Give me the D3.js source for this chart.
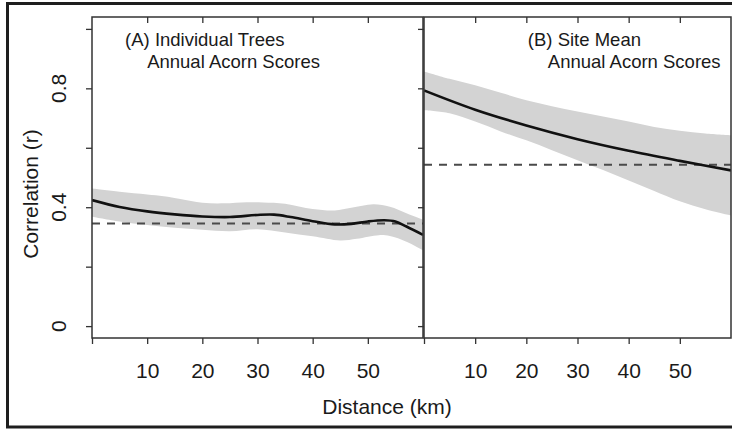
<!DOCTYPE html>
<html lang="en">
<head>
  <meta charset="UTF-8" />
  <title>Correlation vs distance</title>
  <script src="https://d3js.org/d3.v7.min.js"></script>
  <style>
    body { margin: 0; background: #fff; }
    text { font-family: "Liberation Sans", Arial, sans-serif; fill: #1a1a1a; }
    .tick line { stroke: #333; stroke-width: 1.3px; }
  </style>
</head>
<body>
  <svg width="732" height="429"></svg>

  <script>
    // Panel A: individual trees
    const distA  = [0, 5, 10, 15, 20, 25, 30, 33, 36, 40, 44, 47, 50, 53, 55, 57, 60];
    const meanA  = [0.424, 0.401, 0.386, 0.376, 0.369, 0.367, 0.374, 0.375, 0.367, 0.353, 0.342, 0.344, 0.352, 0.356, 0.352, 0.335, 0.307];
    const bandDistA = [0, 5, 10, 13, 16, 20, 24, 28, 31, 35, 40, 44, 47, 51, 54, 57, 60];
    const upperA = [0.463, 0.452, 0.443, 0.437, 0.428, 0.415, 0.413, 0.417, 0.416, 0.412, 0.394, 0.389, 0.398, 0.410, 0.402, 0.380, 0.358];
    const lowDistA = [0, 5, 10, 15, 20, 25, 30, 35, 40, 45, 48, 52, 54, 57, 60];
    const lowerA = [0.368, 0.352, 0.340, 0.331, 0.324, 0.319, 0.326, 0.315, 0.302, 0.288, 0.294, 0.306, 0.303, 0.284, 0.255];
    const nullA = 0.345;

    // Panel B: site means
    const distB  = [0, 10, 20, 30, 40, 50, 60];
    const meanB  = [0.793, 0.728, 0.675, 0.629, 0.590, 0.556, 0.524];
    const bandDistB = [0, 5, 10, 15, 20, 25, 30, 35, 40, 45, 50, 55, 60];
    const upperB = [0.857, 0.832, 0.810, 0.785, 0.760, 0.740, 0.722, 0.705, 0.688, 0.670, 0.657, 0.648, 0.642];
    const lowerB = [0.726, 0.716, 0.688, 0.655, 0.625, 0.592, 0.558, 0.525, 0.490, 0.455, 0.420, 0.393, 0.372];
    const nullB = 0.543;

    const xTicks = [0, 10, 20, 30, 40, 50];
    const yTicks = [0, 0.2, 0.4, 0.6, 0.8, 1.0];
    const yLabels = [0, 0.4, 0.8];

    const svg = d3.select("svg");
    const plotTop = 17, plotBottom = 338;

    const y = d3.scaleLinear().domain([-0.04, 1.04]).range([plotBottom, plotTop]);

    // outer frame
    svg.append("rect")
      .attr("x", 7.5).attr("y", 3.5)
      .attr("width", 730).attr("height", 423.5)
      .attr("fill", "none").attr("stroke", "#1e1e1e").attr("stroke-width", 3);

    const panels = [
      { left: 92, right: 423, mean: meanA, dist: distA,
        upper: bandDistA.map((d, i) => [d, upperA[i]]),
        lower: lowDistA.map((d, i) => [d, lowerA[i]]),
        nullR: nullA, lines: ["(A) Individual Trees", "Annual Acorn Scores"], lx: [6, 10], showY: true },
      { left: 424, right: 731, mean: meanB, dist: distB,
        upper: bandDistB.map((d, i) => [d, upperB[i]]),
        lower: bandDistB.map((d, i) => [d, lowerB[i]]),
        nullR: nullB, lines: ["(B) Site Mean", "Annual Acorn Scores"], lx: [20.3, 24.2], showY: false }
    ];

    panels.forEach((p, k) => {
      const x = d3.scaleLinear().domain([0, 60]).range([p.left, p.right]);
      const g = svg.append("g");

      const clipId = "clip" + k;
      svg.append("clipPath").attr("id", clipId)
        .append("rect").attr("x", p.left).attr("y", plotTop)
        .attr("width", p.right - p.left).attr("height", plotBottom - plotTop);

      const plot = g.append("g").attr("clip-path", `url(#${clipId})`);

      // confidence band: upper edge then lower edge reversed
      const edge = d3.line().x(d => x(d[0])).y(d => y(d[1])).curve(d3.curveCatmullRom);
      const upPath = edge(p.upper);
      const lowPath = edge(p.lower.slice().reverse());
      plot.append("path")
        .attr("d", upPath + "L" + lowPath.slice(1) + "Z")
        .attr("fill", "#d3d3d3");

      plot.append("line")
        .attr("x1", x(0)).attr("x2", x(60))
        .attr("y1", y(p.nullR)).attr("y2", y(p.nullR))
        .attr("stroke", "#4a4a4a").attr("stroke-width", 2)
        .attr("stroke-dasharray", "8,7");

      plot.append("path")
        .datum(p.dist.map((d, i) => [d, p.mean[i]]))
        .attr("d", edge)
        .attr("fill", "none").attr("stroke", "#111").attr("stroke-width", 2.6);

      // axes
      const bx = g.append("g").attr("transform", `translate(0,${plotBottom})`)
        .call(d3.axisBottom(x).tickValues(xTicks).tickSize(6).tickFormat(d => d === 0 ? "" : d));
      bx.select(".domain").remove();
      bx.selectAll("text").attr("y", 25).style("font-size", "21px").attr("font-family", null);

      const tx = g.append("g").attr("transform", `translate(0,${plotTop})`)
        .call(d3.axisTop(x).tickValues(xTicks.slice(1)).tickSize(-6).tickFormat(""));
      tx.select(".domain").remove();

      const ly = g.append("g").attr("transform", `translate(${p.left},0)`)
        .call(d3.axisLeft(y).tickValues(yTicks).tickSize(6).tickFormat(""));
      ly.select(".domain").remove();

      if (p.showY) {
        g.selectAll(".ylab").data(yLabels).enter().append("text")
          .attr("transform", d => `translate(58,${y(d)}) rotate(-90)`)
          .attr("text-anchor", "middle").attr("dominant-baseline", "central")
          .style("font-size", "21px")
          .text(d => d === 0 ? "0" : d3.format(".1f")(d));
      }

      // frame
      g.append("rect")
        .attr("x", p.left).attr("y", plotTop)
        .attr("width", p.right - p.left).attr("height", plotBottom - plotTop)
        .attr("fill", "none").attr("stroke", "#333").attr("stroke-width", 1.5);

      g.selectAll(".plab").data(p.lines).enter().append("text")
        .attr("x", (d, i) => x(p.lx[i]))
        .attr("y", (d, i) => 46 + i * 22)
        .style("font-size", "18.5px")
        .text(d => d);
    });

    svg.append("text")
      .attr("transform", "translate(30,194) rotate(-90)")
      .attr("text-anchor", "middle").attr("dominant-baseline", "central")
      .style("font-size", "21px")
      .text("Correlation (r)");

    svg.append("text")
      .attr("x", 387).attr("y", 414)
      .attr("text-anchor", "middle")
      .style("font-size", "21px")
      .text("Distance (km)");
  </script>
</body>
</html>
